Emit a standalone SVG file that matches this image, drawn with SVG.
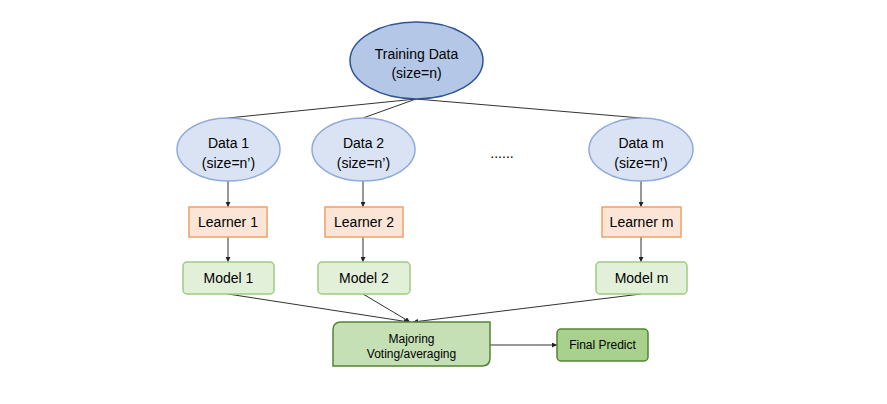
<svg xmlns="http://www.w3.org/2000/svg" width="887" height="404" viewBox="0 0 887 404">
<defs>
<marker id="arr" viewBox="0 0 6 6" refX="6" refY="3" markerWidth="5" markerHeight="5" orient="auto" markerUnits="userSpaceOnUse">
<path d="M0,0 L6,3 L0,6 z" fill="#222"/>
</marker>
<style>
text{font-family:"Liberation Sans",Arial,sans-serif;fill:#000;text-anchor:middle}
.t14{font-size:14px}
.t12{font-size:12px}
.line{stroke:#333;stroke-width:1;fill:none}
.arr{stroke:#333;stroke-width:1;fill:none;marker-end:url(#arr)}
.data{fill:#dae3f3;stroke:#8faadc;stroke-width:1.5}
.learner{fill:#fbe5d6;stroke:#f1a067;stroke-width:1.5}
.model{fill:#e2f0d9;stroke:#9dcc7f;stroke-width:1.5}
</style>
</defs>
<rect width="887" height="404" fill="#fff"/>
<g id="connectors">
<line class="line" x1="416" y1="99" x2="228" y2="118"/>
<line class="line" x1="416" y1="99" x2="363" y2="118"/>
<line class="line" x1="416" y1="99" x2="641" y2="118"/>
<line class="arr" x1="228" y1="181" x2="228" y2="207"/>
<line class="arr" x1="363" y1="181" x2="363" y2="207"/>
<line class="arr" x1="641" y1="181" x2="641" y2="207"/>
<line class="arr" x1="228" y1="237" x2="228" y2="262"/>
<line class="arr" x1="363" y1="237" x2="363" y2="262"/>
<line class="arr" x1="641" y1="237" x2="641" y2="262"/>
<line class="arr" x1="228" y1="294" x2="409" y2="322"/>
<line class="arr" x1="363" y1="294" x2="410" y2="322"/>
<line class="arr" x1="641" y1="294" x2="413" y2="322"/>
<line class="arr" x1="490" y1="345" x2="557" y2="345"/>
</g>
<g id="training">
<ellipse cx="416.5" cy="60.5" rx="66.5" ry="38.5" fill="#b4c7e7" stroke="#2f5597" stroke-width="1.5"/>
<text class="t14" x="416.5" y="59">Training Data</text>
<text class="t14" x="416.5" y="78">(size=n)</text>
</g>
<g id="data1">
<ellipse class="data" cx="228.5" cy="149.5" rx="51.5" ry="31.5"/>
<text class="t14" x="228.5" y="148">Data 1</text>
<text class="t14" x="228.5" y="168">(size=n’)</text>
</g>
<g id="data2">
<ellipse class="data" cx="363.5" cy="149.5" rx="51.5" ry="31.5"/>
<text class="t14" x="363.5" y="148">Data 2</text>
<text class="t14" x="363.5" y="168">(size=n’)</text>
</g>
<g id="dots">
<text class="t14" x="502" y="158">......</text>
</g>
<g id="datam">
<ellipse class="data" cx="641" cy="149.5" rx="52" ry="31.5"/>
<text class="t14" x="641" y="148">Data m</text>
<text class="t14" x="641" y="168">(size=n’)</text>
</g>
<g id="learner1">
<rect class="learner" x="189" y="207" width="78" height="30"/>
<text class="t14" x="228" y="227">Learner 1</text>
</g>
<g id="learner2">
<rect class="learner" x="325" y="207" width="78" height="30"/>
<text class="t14" x="364" y="227">Learner 2</text>
</g>
<g id="learnerm">
<rect class="learner" x="602" y="207" width="79" height="30"/>
<text class="t14" x="641.5" y="227">Learner m</text>
</g>
<g id="model1">
<rect class="model" x="183" y="262" width="91" height="32" rx="4"/>
<text class="t14" x="228.5" y="283">Model 1</text>
</g>
<g id="model2">
<rect class="model" x="318" y="262" width="92" height="32" rx="4"/>
<text class="t14" x="364" y="283">Model 2</text>
</g>
<g id="modelm">
<rect class="model" x="596" y="262" width="91" height="32" rx="4"/>
<text class="t14" x="641.5" y="283">Model m</text>
</g>
<g id="voting">
<path d="M341,322 H490 V358 Q490,366 482,366 H333 V330 Q333,322 341,322 Z" fill="#c5e0b4" stroke="#548235" stroke-width="1.5"/>
<text class="t12" x="411.5" y="343">Majoring</text>
<text class="t12" x="411.5" y="358">Voting/averaging</text>
</g>
<g id="final">
<rect x="557" y="329" width="91" height="32" rx="4" fill="#a9d18e" stroke="#548235" stroke-width="1.5"/>
<text class="t12" x="602.5" y="349">Final Predict</text>
</g>
</svg>
